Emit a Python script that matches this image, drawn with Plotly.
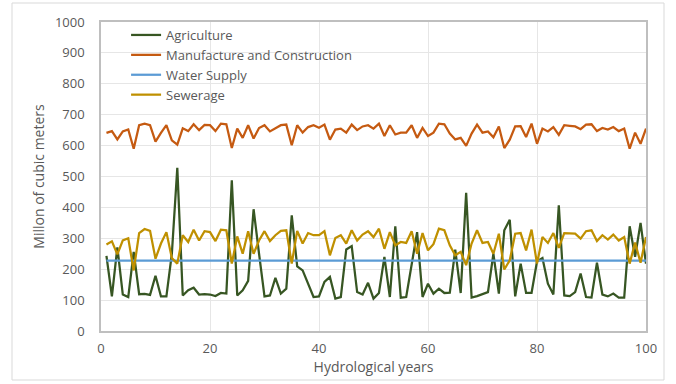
import plotly.graph_objects as go

# Hydrological years 1..100
years = list(range(1, 101))

agriculture = [
    243, 112, 271, 118, 110, 256, 119, 120, 117, 179,
    112, 112, 250, 528, 115, 132, 140, 118, 119, 118,
    113, 123, 121, 488, 115, 132, 162, 394, 250, 112,
    115, 172, 121, 137, 374, 209, 196, 151, 110, 112,
    159, 175, 105, 110, 264, 275, 126, 118, 156, 105,
    123, 240, 110, 339, 108, 110, 218, 320, 110, 153,
    121, 137, 123, 124, 263, 123, 447, 108, 113, 119,
    126, 250, 121, 326, 360, 112, 218, 123, 123, 225,
    236, 153, 118, 407, 115, 113, 126, 186, 110, 108,
    221, 118, 112, 121, 108, 108, 339, 240, 350, 218,
]

manufacture = [
    641, 647, 620, 646, 652, 590, 666, 671, 666, 613,
    641, 666, 617, 603, 656, 647, 669, 650, 667, 666,
    647, 671, 669, 592, 655, 625, 666, 623, 657, 666,
    646, 655, 666, 668, 601, 666, 642, 660, 666, 658,
    668, 619, 652, 655, 642, 668, 650, 662, 666, 655,
    671, 631, 666, 636, 642, 642, 666, 625, 657, 631,
    642, 671, 669, 639, 620, 625, 599, 639, 668, 642,
    646, 627, 662, 592, 619, 662, 663, 628, 671, 606,
    655, 646, 660, 635, 666, 664, 662, 653, 668, 669,
    647, 657, 652, 660, 647, 655, 590, 642, 606, 655,
]

water_supply = [228] * 100

sewerage = [
    280, 290, 248, 293, 300, 196, 317, 330, 324, 234,
    283, 320, 236, 218, 310, 288, 328, 293, 323, 320,
    291, 328, 326, 218, 306, 250, 323, 250, 293, 323,
    291, 310, 324, 326, 218, 324, 283, 317, 310, 310,
    323, 245, 301, 310, 283, 326, 293, 312, 323, 304,
    331, 266, 320, 277, 288, 285, 323, 250, 317, 261,
    281, 331, 326, 277, 245, 256, 213, 283, 326, 285,
    288, 250, 315, 199, 229, 315, 317, 261, 328, 218,
    304, 285, 317, 269, 317, 315, 315, 299, 323, 326,
    291, 310, 296, 312, 293, 304, 218, 286, 221, 304,
]

series = [
    ("Agriculture", agriculture, "#375623"),
    ("Manufacture and Construction", manufacture, "#C55A11"),
    ("Water Supply", water_supply, "#5B9BD5"),
    ("Sewerage", sewerage, "#BF9000"),
]

fig = go.Figure()
for name, vals, color in series:
    fig.add_trace(go.Scatter(
        x=years, y=vals, name=name, mode="lines",
        line=dict(color=color, width=2.25),
    ))

font_family = "'Open Sans', 'Liberation Sans', sans-serif"
axis_common = dict(
    showgrid=True, gridcolor="#e6e6e6", gridwidth=1,
    showline=True, linecolor="#bfbfbf", linewidth=1.5, mirror=True,
    zeroline=False, ticks="",
    tickfont=dict(family=font_family, size=13, color="#595959"),
)

fig.update_layout(
    width=676, height=384,
    margin=dict(l=101, r=30, t=22, b=53),
    paper_bgcolor="white", plot_bgcolor="white",
    font=dict(family=font_family, color="#595959"),
    xaxis=dict(range=[0, 100], dtick=20, tick0=0, ticklabelstandoff=5,
               title=dict(text="Hydrological years", standoff=5,
                          font=dict(family=font_family, size=14, color="#595959")),
               **axis_common),
    yaxis=dict(range=[0, 1000], dtick=100, tick0=0, ticklabelstandoff=12,
               title=dict(text="Millon of cubic meters", standoff=7,
                          font=dict(family=font_family, size=14, color="#595959")),
               **axis_common),
    legend=dict(x=0.046, y=1.0 + 2 / 309, xanchor="left", yanchor="top",
                bgcolor="rgba(0,0,0,0)", tracegroupgap=0,
                font=dict(family=font_family, size=13, color="#595959")),
    showlegend=True,
)

# Outer chart frame
fig.add_shape(type="rect", xref="paper", yref="paper",
              x0=(12 - 101) / 545, x1=(664 - 101) / 545,
              y0=(331 - 380) / 309, y1=(331 - 3) / 309,
              line=dict(color="#d9d9d9", width=1), fillcolor="rgba(0,0,0,0)",
              layer="below")

fig.write_html("out.html")
